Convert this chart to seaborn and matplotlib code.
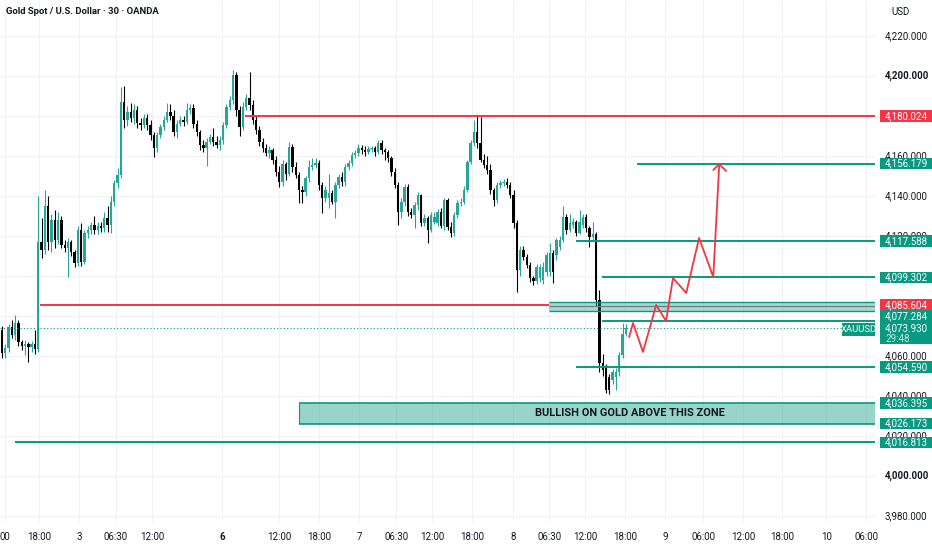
import numpy as np
import pandas as pd
import matplotlib
matplotlib.use('Agg')
import matplotlib.pyplot as plt
from matplotlib.patches import Rectangle
import seaborn as sns

# 30 minute candles
opens = [4073, 4061.5, 4064, 4074.5, 4070.5, 4076.5, 4067, 4065, 4066, 4064.5,
         4066, 4063.5, 4117, 4113, 4135, 4117, 4128, 4118, 4128, 4115.5,
         4114, 4117, 4112, 4106.5, 4123, 4107, 4121.5, 4123, 4125.5, 4123,
         4125, 4124, 4129, 4125.5, 4137, 4146.5, 4150.5, 4187, 4178, 4182,
         4179, 4183, 4176.5, 4175.5, 4179, 4175.5, 4170.5, 4164, 4170.5, 4174.5,
         4178, 4182, 4180, 4172, 4176, 4178, 4177, 4183, 4184, 4176,
         4172, 4165.5, 4164, 4167, 4169.5, 4167, 4165.5, 4168, 4175.5, 4184.5,
         4188, 4200.5, 4183, 4174.5, 4184.5, 4189, 4185.5, 4178, 4173, 4167,
         4164, 4161.5, 4163, 4158, 4152, 4147, 4156, 4151, 4164.5, 4154.5,
         4150.5, 4143, 4142, 4149, 4154.5, 4155.5, 4156.5, 4145.5, 4139, 4139,
         4141.5, 4137, 4145.5, 4149.5, 4147, 4154.5, 4156.5, 4160.5, 4161.5, 4164,
         4163, 4162, 4163.5, 4164, 4162, 4166.5, 4163, 4162, 4159, 4152,
         4145.5, 4132, 4137, 4144.5, 4132, 4130.5, 4135.5, 4140.5, 4126.5, 4129,
         4123, 4127, 4126.5, 4132, 4125, 4138, 4124.5, 4121.5, 4130.5, 4136.5,
         4137, 4143, 4157, 4166.5, 4172, 4166.5, 4158, 4155.5, 4153, 4143,
         4138, 4145.5, 4146.5, 4147, 4145.5, 4140.5, 4126.5, 4103, 4113, 4109.5,
         4105.5, 4099, 4097.5, 4099, 4098, 4102, 4102, 4111.5, 4110.5, 4114.5,
         4118, 4129.5, 4123, 4125.5, 4127, 4121.5, 4125.5, 4129.5, 4124, 4119.5,
         4121, 4088, 4056.5, 4054.5, 4049.5, 4048, 4049.5, 4052, 4060.5, 4071]
highs = [4075, 4066, 4076, 4078, 4080.5, 4078, 4068, 4068, 4067, 4067.5,
         4073, 4140, 4129, 4143, 4140, 4131, 4133, 4132, 4130, 4118,
         4119, 4118, 4113, 4125, 4126.5, 4123, 4125, 4127, 4130, 4127,
         4127, 4132, 4135, 4140, 4148, 4154, 4194.5, 4195, 4185, 4186.5,
         4186, 4185, 4179, 4181, 4181, 4178, 4172, 4172, 4176, 4180,
         4186.5, 4186, 4183, 4178, 4180, 4180, 4186.5, 4186, 4186, 4178,
         4173, 4168, 4169, 4171, 4174, 4170, 4170, 4177, 4186, 4190,
         4203, 4202, 4185, 4187, 4191, 4202, 4188, 4180, 4175, 4169,
         4166, 4165, 4164, 4160, 4155, 4158, 4157, 4167, 4166, 4157,
         4152, 4145, 4150, 4158, 4159, 4159, 4158, 4147, 4145, 4151,
         4143, 4147, 4151, 4152, 4156, 4158, 4162, 4163, 4166, 4165.5,
         4165, 4165, 4165, 4165, 4168, 4168, 4164, 4163, 4160, 4154,
         4147, 4139, 4146, 4146, 4134, 4137, 4142, 4141, 4131, 4130,
         4132, 4132, 4133.5, 4134, 4139, 4139, 4127, 4132, 4138, 4139,
         4145, 4158, 4168, 4178, 4180.5, 4179.5, 4161, 4160, 4156, 4144,
         4147, 4148, 4148.5, 4149, 4147, 4143, 4128, 4115, 4115, 4111,
         4107, 4100, 4106, 4106, 4107, 4112, 4116.5, 4113, 4119, 4120,
         4135, 4131, 4131, 4129, 4128, 4133, 4131, 4131, 4125, 4127,
         4122, 4093, 4061, 4056, 4051, 4053.5, 4054, 4062, 4076.5, 4076]
lows = [4059, 4059, 4062, 4069, 4068, 4065, 4063, 4060.5, 4057, 4062,
        4061, 4062, 4109, 4111, 4113, 4112, 4114, 4116, 4114, 4112,
        4099.5, 4110, 4104.5, 4105, 4105, 4106, 4119, 4121, 4121, 4121,
        4122, 4122, 4122, 4121.5, 4135, 4144, 4149, 4174, 4175, 4177,
        4176, 4174, 4173, 4174, 4173, 4168, 4159.5, 4162, 4169, 4173,
        4177, 4178, 4170, 4169, 4175, 4175, 4176, 4181, 4174, 4170,
        4163, 4162, 4155, 4166, 4165, 4164, 4163, 4166, 4174, 4183,
        4186, 4180, 4170, 4173, 4183, 4183, 4176, 4171, 4165, 4162,
        4160, 4159, 4156, 4150, 4144.5, 4145, 4148, 4150, 4152, 4149,
        4136.5, 4136.5, 4140, 4147, 4153, 4154, 4143, 4131.5, 4137, 4134,
        4136, 4129, 4144, 4145, 4145, 4153, 4155, 4159, 4160, 4161,
        4160, 4161, 4162, 4160, 4161, 4161, 4158, 4157, 4150, 4144,
        4125.5, 4129, 4135, 4130, 4129, 4124, 4133, 4125, 4125, 4116.5,
        4122, 4126, 4125, 4124, 4123, 4123, 4119.5, 4120, 4129, 4135,
        4136, 4142, 4156, 4165, 4164, 4157, 4154, 4151, 4141, 4135,
        4136.5, 4144, 4145, 4144, 4139, 4124, 4092, 4100, 4108, 4104,
        4097, 4095.5, 4096, 4097, 4096, 4100, 4100, 4096.5, 4108, 4113,
        4117, 4121, 4122, 4124, 4120, 4121, 4124, 4122, 4114.5, 4118,
        4085, 4052, 4050, 4041.5, 4041, 4046, 4043, 4050, 4059, 4070]
closes = [4061.5, 4064, 4074.5, 4070.5, 4076.5, 4067, 4065, 4066, 4064.5, 4066,
          4063.5, 4117, 4113, 4135, 4117, 4128, 4118, 4128, 4115.5, 4114,
          4117, 4112, 4106.5, 4123, 4107, 4121.5, 4123, 4125.5, 4123, 4125,
          4124, 4129, 4125.5, 4137, 4146.5, 4150.5, 4187, 4178, 4182, 4179,
          4183, 4176.5, 4175.5, 4179, 4175.5, 4170.5, 4164, 4170.5, 4174.5, 4178,
          4182, 4180, 4172, 4176, 4178, 4177, 4183, 4184, 4176, 4172,
          4165.5, 4164, 4167, 4169.5, 4167, 4165.5, 4168, 4175.5, 4184.5, 4188,
          4200.5, 4183, 4174.5, 4184.5, 4189, 4185.5, 4178, 4173, 4167, 4164,
          4161.5, 4163, 4158, 4152, 4147, 4156, 4151, 4164.5, 4154.5, 4150.5,
          4143, 4142, 4149, 4154.5, 4155.5, 4156.5, 4145.5, 4139, 4143, 4141.5,
          4137, 4145.5, 4149.5, 4147, 4154.5, 4156.5, 4160.5, 4161.5, 4164, 4163,
          4162, 4163.5, 4164, 4162, 4166.5, 4163, 4162, 4159, 4152, 4145.5,
          4132, 4137, 4144.5, 4132, 4130.5, 4135.5, 4140.5, 4126.5, 4129, 4123,
          4130.5, 4129.5, 4132, 4125, 4138, 4124.5, 4121.5, 4130.5, 4136.5, 4137,
          4143, 4157, 4166.5, 4172, 4166.5, 4158, 4155.5, 4153, 4143, 4138,
          4145.5, 4146.5, 4147, 4145.5, 4140.5, 4126.5, 4103, 4113, 4109.5, 4105.5,
          4099, 4097.5, 4104.5, 4104.5, 4104.5, 4110.5, 4111.5, 4102, 4118, 4118,
          4129.5, 4123, 4126.5, 4127, 4121.5, 4127, 4129.5, 4124, 4119.5, 4121,
          4088, 4056.5, 4053, 4043, 4043, 4052, 4052, 4060.5, 4071, 4073.93]

# time axis (bar index of each label)
time_labels = ['00', '18:00', '3', '06:30', '12:00', '6', '12:00', '18:00', '7', '06:30',
               '12:00', '18:00', '8', '06:30', '12:00', '18:00', '9', '06:00', '12:00',
               '18:00', '10', '06:00']
time_pos = [0.9, 11.2, 23.3, 34.5, 45.5, 66.7, 83.9, 96.0, 108.2, 119.4, 130.3, 142.4,
            154.8, 165.8, 176.7, 188.8, 200.9, 212.4, 224.5, 236.4, 249.7, 261.8]

price_ticks = list(range(3980, 4221, 20))
hidden_ticks = [4080, 4100, 4180]
bold_ticks = [4000, 4200]

# drawn levels
red_levels = [4180.024, 4085.604]
red_start = [73.6, 11.5]
red_end = [None, 165.8]
teal_levels = [4156.179, 4117.588, 4099.302, 4077.284, 4054.590, 4016.813]
teal_start = [192.4, 174.0, 181.8, 181.8, 174.0, 3.9]

zone_low, zone_high, zone_start = 4026.173, 4036.395, 90.0
zone_text = 'BULLISH ON GOLD ABOVE THIS ZONE'
band_low, band_high, band_start = 4082.6, 4087.0, 165.8

current_price = 4073.930
countdown = '29:48'
symbol = 'XAUUSD'

# labels on the price scale: value, where it is shown, colour
label_values = [4180.024, 4156.179, 4117.588, 4099.302, 4085.604, 4077.284, 4054.590,
                4036.395, 4026.173, 4016.813]
label_shown_at = [4180.024, 4156.179, 4117.588, 4099.302, 4085.604, 4080.0, 4054.590,
                  4036.395, 4026.173, 4016.813]
label_red = [True, False, False, False, True, False, False, False, False, False]

# projected path
path_x = [190.0, 191.2, 194.2, 198.2, 201.2, 203.3, 207.3, 211.2, 215.5, 217.3]
path_y = [4069.5, 4076.5, 4062.0, 4085.5, 4077.5, 4099.0, 4091.5, 4119.0, 4099.5, 4155.5]
head_x = [215.5, 217.3, 219.4]
head_y = [4153.0, 4156.0, 4152.5]

UP = '#26a69a'
DOWN = '#000000'
TEAL = '#089981'
RED = '#f23645'
TXT = '#131722'
GRID = '#f0f2f6'

sns.set_theme(style='white')
plt.rcParams['font.family'] = ['Roboto', 'DejaVu Sans']

fig = plt.figure(figsize=(9.32, 5.5), dpi=100)
ax = fig.add_axes([0, 28 / 550, 875 / 932, 522 / 550])
pax = fig.add_axes([875 / 932, 28 / 550, 57 / 932, 522 / 550], sharey=ax)

XMIN, XMAX = -0.6, 264.5
ax.set_xlim(XMIN, XMAX)
ax.set_ylim(3977, 4238)
pax.set_xlim(0, 57)

df = pd.DataFrame({'o': opens, 'h': highs, 'l': lows, 'c': closes})
df['i'] = np.arange(len(df))
cols = np.where(df.c >= df.o, UP, DOWN)

ax.set_yticks(price_ticks)
ax.set_xticks(time_pos, time_labels)
ax.grid(True, color=GRID, lw=0.8, zorder=0)
ax.tick_params(axis='x', length=0, pad=7, labelsize=7, labelcolor=TXT)
ax.tick_params(axis='y', length=0, labelleft=False)
ax.get_xticklabels()[5].set_fontweight('bold')
for s in ax.spines.values():
    s.set_visible(False)
pax.axis('off')

# candles
ax.vlines(df.i, df.l, df.h, colors=cols, lw=0.8, zorder=3)
body = np.maximum((df.c - df.o).abs(), 0.6)
ax.bar(df.i, body, bottom=np.minimum(df.o, df.c), width=0.72, color=cols, lw=0, zorder=4)

# levels
for lv, x0, x1 in zip(red_levels, red_start, red_end):
    ax.hlines(lv, x0, XMAX if x1 is None else x1, color=RED, lw=1.4, zorder=5)
for lv, x0 in zip(teal_levels, teal_start):
    ax.hlines(lv, x0, XMAX, color=TEAL, lw=1.4, zorder=5)

ax.add_patch(Rectangle((band_start, band_low), 400, band_high - band_low, fc=TEAL,
                       alpha=0.35, ec='none', zorder=5))
ax.hlines([band_low, band_high], band_start, XMAX, color=TEAL, lw=1.0, zorder=5)
ax.hlines((band_low + band_high) / 2, band_start, XMAX, color='#787b86', lw=1.0, zorder=5)

ax.add_patch(Rectangle((zone_start, zone_low), 400, zone_high - zone_low, fc=TEAL,
                       alpha=0.42, ec='none', zorder=5))
ax.hlines([zone_low, zone_high], zone_start, XMAX, color=TEAL, lw=1.2, zorder=5)
ax.vlines(zone_start, zone_low, zone_high, color=TEAL, lw=0.8, zorder=5)
ax.text(190.3, (zone_low + zone_high) / 2, zone_text, ha='center', va='center',
        fontsize=7.9, weight='bold', color=TXT, zorder=6)

# current price
ax.hlines(current_price, XMIN, 254.5, color=TEAL, lw=0.8, ls=(0, (1, 2)), zorder=5)
ax.add_patch(Rectangle((254.5, 4070.0), 20, 6.5, fc=TEAL, ec='none', zorder=7))
ax.text(259.6, 4073.25, symbol, ha='center', va='center', fontsize=6.8, color='white', zorder=8)

# projection
sns.lineplot(x=path_x, y=path_y, sort=False, estimator=None, color=RED, lw=1.3, ax=ax, zorder=6)
ax.plot(head_x, head_y, color=RED, lw=1.3, zorder=6)

ax.text(6 / 875, 1 - 12 / 522, 'Gold Spot / U.S. Dollar · 30 · OANDA', transform=ax.transAxes,
        fontsize=6.8, weight='bold', color=TXT, va='center', ha='left')

# price scale
pax.text(16, 4232, 'USD', fontsize=7, color=TXT, va='center', ha='left')
for t in price_ticks:
    if t in hidden_ticks:
        continue
    pax.text(10, t, f'{t:,.3f}', fontsize=7, color=TXT, va='center', ha='left',
             weight='bold' if t in bold_ticks else 'normal')

for v, at, red in zip(label_values, label_shown_at, label_red):
    pax.add_patch(Rectangle((5, at - 2.9), 60, 5.8, fc=RED if red else TEAL, ec='none', zorder=5))
    pax.text(10, at, f'{v:,.3f}', fontsize=7, color='white', va='center', ha='left', zorder=6)

pax.add_patch(Rectangle((5, 4066.0), 60, 11.0, fc=TEAL, ec='none', zorder=5))
pax.text(10, 4073.75, f'{current_price:,.3f}', fontsize=7, color='white', va='center', ha='left', zorder=6)
pax.text(10, 4068.3, countdown, fontsize=7, color='#c8ece5', va='center', ha='left', zorder=6)

plt.savefig('out.png', dpi=100)
